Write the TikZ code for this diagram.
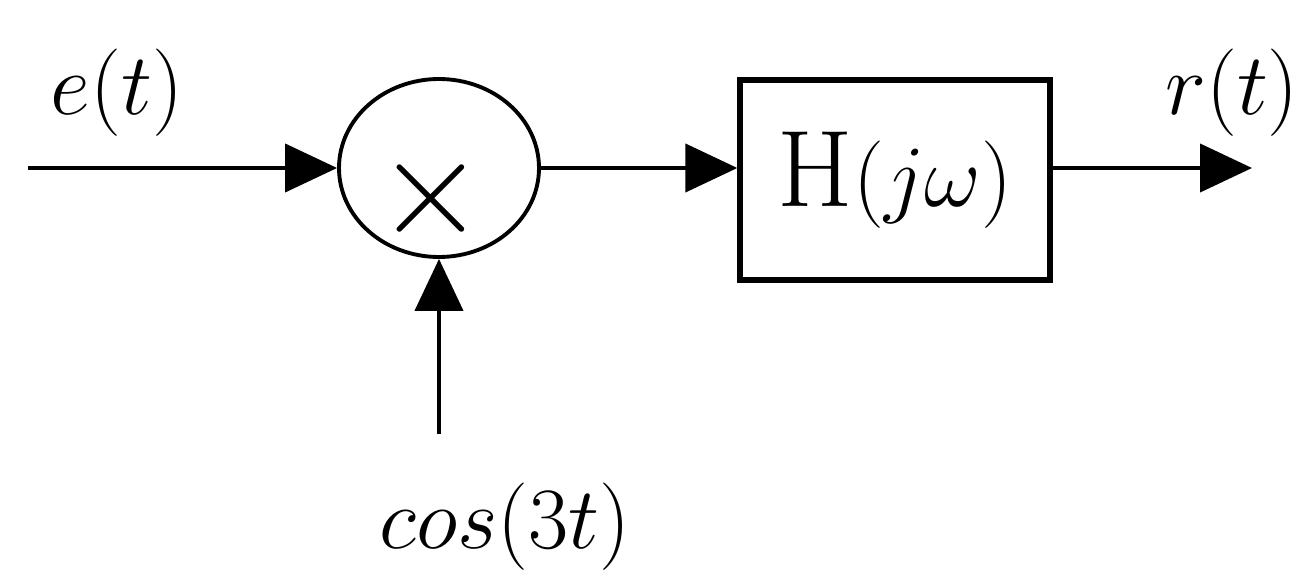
\documentclass[tikz,border=0pt]{standalone}
\usepackage{amsmath,amssymb}
\usetikzlibrary{arrows.meta,positioning,shapes.geometric}

\begin{document}
\begin{tikzpicture}[
  font=\fontsize{31}{36}\selectfont,
  mul/.style={draw, ellipse, line width=1.1pt, minimum width=20mm, minimum height=17.8mm, inner sep=0pt},
  blk/.style={draw, line width=1.5pt, minimum width=31mm, minimum height=20mm, inner sep=0pt},
  arr/.style={-{Triangle[length=5.2mm,width=4.8mm]}, line width=1.2pt},
  lbl/.style={inner sep=0pt}
]
\useasboundingbox (0,0) rectangle (13.1,5.77);
\node[mul] (mult) at (4.39,4.09) {};
\node[lbl] (times) at (4.31,3.78) {\scalebox{1.6}{$\times$}};
\node[blk] (filt) at (8.95,3.97) {H$(j\omega)$};
\coordinate (in) at (0.28,4.09);
\coordinate (out) at (12.52,4.09);
\coordinate (carrier) at (4.39,1.43);
\draw[arr] (in) -- (mult.west);
\draw[arr] (mult.east) -- (mult.east -| filt.west);
\draw[arr] (mult.east -| filt.east) -- (out);
\draw[arr] (carrier) -- (mult.south);
\node[lbl] (ein) at (1.17,4.84) {$e(t)$};
\node[lbl] (rout) at (12.32,4.84) {$r(t)$};
\node[lbl] (cosl) at (5.05,0.5) {$cos(3t)$};
\end{tikzpicture}
\end{document}
